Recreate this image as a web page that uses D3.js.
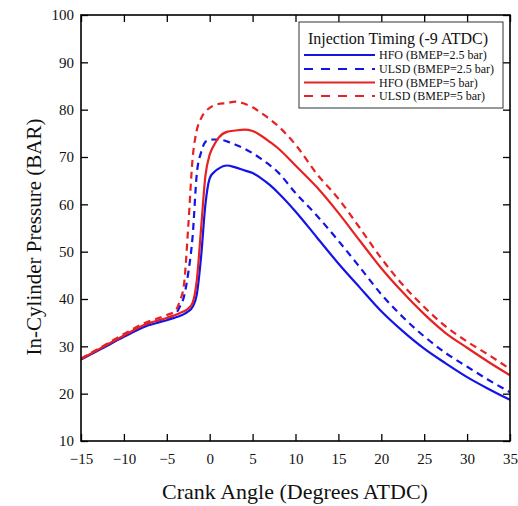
<!DOCTYPE html>
<html><head><meta charset="utf-8">
<script src="https://cdn.jsdelivr.net/npm/d3@7"></script>
<style>body{margin:0;background:#fff}svg{display:block}</style>
</head><body>
<script>
const crank = [-15,-12.5,-10,-7.5,-5,-4,-3.5,-3,-2.5,-2,-1.5,-1,-0.5,0,0.5,1,2,3,4,5,6,7,8,10,12.5,15,17.5,20,22.5,25,27.5,30,32.5,35];
const hfo25  = [27.2,29.6,32.0,34.2,35.5,36.1,36.4,36.8,37.4,38.3,41.0,49,60,65.5,66.8,67.5,68.2,67.8,67.2,66.6,65.5,64.1,62.4,58.5,53.0,47.5,42.4,37.4,33.2,29.5,26.4,23.5,21.0,18.7];
const ulsd25 = [27.3,29.8,32.3,34.6,36.0,36.8,38.3,40.5,45.5,53,66.5,71.0,73.2,73.6,73.7,73.7,73.3,72.6,71.8,70.8,69.6,68.3,66.7,62.4,57.6,52.3,46.7,41.0,36.2,32.1,28.6,25.7,22.9,20.3];
const hfo5   = [27.3,29.8,32.3,34.6,36.0,36.6,37.0,37.4,38.0,39.2,44,55,66,70.5,72.5,74.0,75.3,75.6,75.8,75.5,74.5,73.2,71.8,68.2,63.6,58.2,52.3,46.5,41.4,36.8,32.8,29.7,26.7,23.9];
const ulsd5  = [27.4,30.0,32.6,35.0,36.6,37.5,39.5,43,55.3,69.5,75.7,78.2,79.6,80.4,80.9,81.2,81.4,81.7,81.3,80.5,79.3,78.0,76.5,72.6,66.4,61.2,55.0,48.6,43.0,38.3,34.2,31.0,28.2,25.2];
const seriesNames = ["HFO (BMEP=2.5 bar)","ULSD (BMEP=2.5 bar)","HFO (BMEP=5 bar)","ULSD (BMEP=5 bar)"];
const xTicks = [-15,-10,-5,0,5,10,15,20,25,30,35];
const yTicks = [10,20,30,40,50,60,70,80,90,100];
const legendTitle = "Injection Timing (-9 ATDC)";
const xTitle = "Crank Angle (Degrees ATDC)";
const yTitle = "In-Cylinder Pressure (BAR)";

const W = 518, H = 506;
const blue = "#1414e6", red = "#e62222";
const styles = [
  {color: blue, dash: null},
  {color: blue, dash: "7,5"},
  {color: red, dash: null},
  {color: red, dash: "7,5"}
];
const allSeries = [hfo25, ulsd25, hfo5, ulsd5];
const font = "'Liberation Serif','Times New Roman',serif";

const svg = d3.select("body").append("svg").attr("width", W).attr("height", H);
const x = d3.scaleLinear().domain([-15,35]).range([81, 510]);
const y = d3.scaleLinear().domain([10,100]).range([441, 15]);

svg.append("clipPath").attr("id","c").append("rect")
  .attr("x", x(-15)).attr("y", y(100)).attr("width", x(35)-x(-15)).attr("height", y(10)-y(100));

const line = d3.line().x((d,i)=>x(crank[i])).y(d=>y(d)).curve(d3.curveMonotoneX);
const g = svg.append("g").attr("clip-path","url(#c)");
allSeries.forEach((s,k)=>{
  g.append("path").datum(s).attr("d", line).attr("fill","none")
    .attr("stroke", styles[k].color).attr("stroke-width", 2.2)
    .attr("stroke-dasharray", styles[k].dash);
});

function styleAxis(sel){
  sel.selectAll("text").attr("font-family", font).attr("font-size", 15).attr("fill","#111");
  sel.select(".domain").remove();
  sel.selectAll("line").attr("stroke","#000").attr("stroke-width",1.3);
}
svg.append("g").attr("transform",`translate(0,${y(10)})`)
  .call(d3.axisBottom(x).tickValues(xTicks).tickSize(-7).tickPadding(12).tickFormat(d3.format("d")))
  .call(styleAxis);
svg.append("g").attr("transform",`translate(0,${y(100)})`)
  .call(d3.axisTop(x).tickValues(xTicks).tickSize(-7).tickFormat(""))
  .call(styleAxis);
svg.append("g").attr("transform",`translate(${x(-15)},0)`)
  .call(d3.axisLeft(y).tickValues(yTicks).tickSize(-7).tickPadding(7).tickFormat(d3.format("d")))
  .call(styleAxis);
svg.append("g").attr("transform",`translate(${x(35)},0)`)
  .call(d3.axisRight(y).tickValues(yTicks).tickSize(-7).tickFormat(""))
  .call(styleAxis);

svg.append("rect").attr("x", x(-15)).attr("y", y(100)).attr("width", x(35)-x(-15)).attr("height", y(10)-y(100))
  .attr("fill","none").attr("stroke","#000").attr("stroke-width",1.6);

svg.append("text").attr("x", 295).attr("y", 499).attr("text-anchor","middle")
  .attr("font-family", font).attr("font-size", 22).attr("fill","#111").text(xTitle);
svg.append("text").attr("transform","translate(41,237) rotate(-90)").attr("text-anchor","middle")
  .attr("font-family", font).attr("font-size", 21).attr("fill","#111").text(yTitle);

const lg = svg.append("g");
lg.append("rect").attr("x",299).attr("y",22).attr("width",204).attr("height",86)
  .attr("fill","#fff").attr("stroke","#333").attr("stroke-width",1);
lg.append("text").attr("x",398).attr("y",44).attr("text-anchor","middle")
  .attr("font-family", font).attr("font-size", 16).attr("fill","#111").text(legendTitle);
const ly = [55, 69, 82.5, 96];
seriesNames.forEach((n,k)=>{
  lg.append("line").attr("x1",304).attr("x2",375).attr("y1",ly[k]).attr("y2",ly[k])
    .attr("stroke", styles[k].color).attr("stroke-width",2)
    .attr("stroke-dasharray", styles[k].dash ? "9,8" : null);
  lg.append("text").attr("x",379).attr("y",ly[k]+4).attr("font-family", font).attr("font-size",12)
    .attr("fill","#111").text(n);
});
</script>
</body></html>
